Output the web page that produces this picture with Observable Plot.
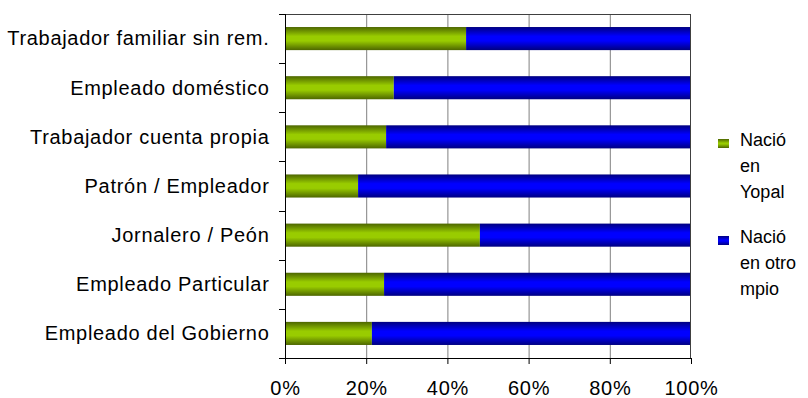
<!DOCTYPE html>
<html>
<head>
<meta charset="utf-8">
<script src="https://cdn.jsdelivr.net/npm/d3@7"></script>
<script src="https://cdn.jsdelivr.net/npm/@observablehq/plot@0.6"></script>
<style>
  html, body { margin: 0; padding: 0; background: #fff; }
  #wrap { position: relative; width: 808px; height: 398px; font-family: "Liberation Sans", Arial, sans-serif; }
  #legend { position: absolute; left: 718px; top: 0; font-size: 18px; color: #000; }
  .item { position: absolute; left: 0; width: 90px; }
  .sw { position: absolute; left: 0; width: 11px; height: 9px; }
  .lbl { position: absolute; left: 22px; line-height: 26px; white-space: nowrap; }
</style>
</head>
<body>
<div id="wrap"></div>
<script>
const categories = ["Trabajador familiar sin rem.", "Empleado doméstico", "Trabajador cuenta propia", "Patrón / Empleador", "Jornalero / Peón", "Empleado Particular", "Empleado del Gobierno"];
const nacioYopal = [44.6, 26.8, 24.9, 18.0, 48.0, 24.4, 21.4];
const nacioOtro = [55.4, 73.2, 75.1, 82.0, 52.0, 75.6, 78.6];
const seriesNames = ["Nació en Yopal", "Nació en otro mpio"];
const xTicks = [0, 0.2, 0.4, 0.6, 0.8, 1];

const rows = [];
categories.forEach((c, i) => {
  rows.push({cat: c, serie: seriesNames[0], value: nacioYopal[i]});
  rows.push({cat: c, serie: seriesNames[1], value: nacioOtro[i]});
});

function axesLines(index, scales, values, dim) {
  const svg = d3.create("svg:g");
  const x0 = dim.marginLeft, x1 = dim.width - dim.marginRight;
  const y0 = dim.marginTop, y1 = dim.height - dim.marginBottom;
  svg.append("line").attr("x1", x0).attr("x2", x1).attr("y1", y0 + 0.5).attr("y2", y0 + 0.5).attr("stroke", "#404040");
  svg.append("line").attr("x1", x1 - 0.5).attr("x2", x1 - 0.5).attr("y1", y0).attr("y2", y1).attr("stroke", "#404040");
  svg.append("line").attr("x1", x0 + 0.5).attr("x2", x0 + 0.5).attr("y1", y0).attr("y2", y1).attr("stroke", "#000");
  svg.append("line").attr("x1", x0).attr("x2", x1).attr("y1", y1 + 0.5).attr("y2", y1 + 0.5).attr("stroke", "#000");
  for (let k = 0; k <= categories.length; k++) {
    const yy = Math.round(y0 + k * (y1 - y0) / categories.length) + 0.5;
    svg.append("line").attr("x1", x0 - 6).attr("x2", x0).attr("y1", yy).attr("y2", yy).attr("stroke", "#000");
  }
  return svg.node();
}

const chart = Plot.plot({
  width: 808,
  height: 398,
  marginLeft: 285,
  marginRight: 117,
  marginTop: 14,
  marginBottom: 40,
  style: {fontFamily: "'Liberation Sans', Arial, sans-serif", fontSize: "20px", letterSpacing: "0.7px", color: "#000", background: "#fff"},
  x: {domain: [0, 1], ticks: xTicks, tickFormat: d3.format(".0%"), label: null},
  y: {domain: categories, paddingInner: 0.53, paddingOuter: 0.265, round: false, label: null},
  color: {domain: seriesNames, range: ["url(#gGreen)", "url(#gBlue)"]},
  marks: [
    () => {
      const defs = d3.create("svg:defs");
      const mk = (id, edge, mid) => {
        const g = defs.append("linearGradient").attr("id", id).attr("x1", 0).attr("x2", 0).attr("y1", 0).attr("y2", 1);
        g.append("stop").attr("offset", "0%").attr("stop-color", edge);
        g.append("stop").attr("offset", "40%").attr("stop-color", mid);
        g.append("stop").attr("offset", "60%").attr("stop-color", mid);
        g.append("stop").attr("offset", "100%").attr("stop-color", edge);
      };
      mk("gGreen", "#4d6600", "#99cc00");
      mk("gBlue", "#000080", "#0000ff");
      return defs.node();
    },
    Plot.gridX(xTicks.slice(1, -1), {stroke: "#808080", strokeOpacity: 1}),
    Plot.barX(rows, Plot.stackX({y: "cat", x: "value", fill: "serie", offset: "normalize", order: seriesNames})),
    axesLines,
    Plot.axisX({ticks: xTicks, tickFormat: d3.format(".0%"), tickSize: 6, tickPadding: 16, stroke: "#000", label: null, fontSize: 20}),
    Plot.axisY({tickSize: 0, tickPadding: 16, label: null, fontSize: 20})
  ]
});
document.getElementById("wrap").appendChild(chart);

const legend = d3.select("#wrap").append("div").attr("id", "legend");
const legendLines = [["Nació", "en", "Yopal"], ["Nació", "en otro", "mpio"]];
const legendTop = [133, 230];
const swGrad = ["linear-gradient(#4d6600, #99cc00 45%, #99cc00 55%, #4d6600)", "linear-gradient(#000080, #0000ff 45%, #0000ff 55%, #000080)"];
seriesNames.forEach((s, i) => {
  const it = legend.append("div").attr("class", "item").style("top", legendTop[i] + "px");
  it.append("div").attr("class", "sw").style("top", "6px").style("background", swGrad[i]);
  it.append("div").attr("class", "lbl").style("top", "-6px").html(legendLines[i].join("<br>"));
});
</script>
</body>
</html>
